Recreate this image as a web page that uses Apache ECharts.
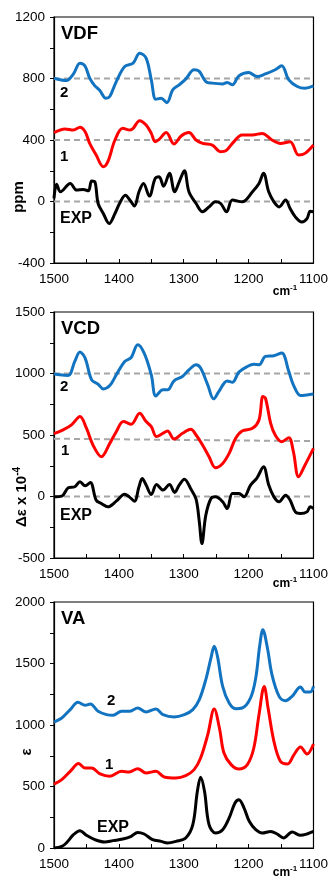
<!DOCTYPE html>
<html>
<head>
<meta charset="utf-8">
<script src="https://cdn.jsdelivr.net/npm/echarts@6/dist/echarts.min.js"></script>
<style>
  html, body { margin: 0; padding: 0; background: #fff; }
  #chart { width: 331px; height: 879px; }
</style>
</head>
<body>
<div id="chart"></div>
<script>
// Wavenumber axis (cm-1), drawn high to low
const waveMin = 1100, waveMax = 1500;

// ---- VDF panel (ppm) ----
const vdfCalc2 = [[1500,802],[1481,787],[1470,830],[1460,900],[1452,880],[1445,802],[1437,752],[1430,726],[1420,672],[1414,683],[1404,780],[1391,878],[1378,900],[1368,965],[1358,933],[1350,791],[1343,665],[1335,672],[1326,643],[1317,726],[1307,759],[1297,796],[1284,857],[1276,846],[1266,780],[1256,770],[1240,765],[1233,774],[1225,759],[1215,817],[1200,839],[1187,813],[1174,830],[1159,857],[1149,883],[1138,791],[1125,748],[1113,737],[1100,752]];
const vdfCalc1 = [[1500,448],[1483,472],[1470,465],[1460,483],[1452,454],[1445,378],[1435,302],[1424,226],[1417,259],[1406,400],[1394,476],[1383,465],[1378,476],[1368,526],[1358,498],[1350,443],[1344,389],[1338,404],[1327,448],[1315,374],[1304,426],[1292,448],[1281,400],[1271,378],[1256,367],[1243,324],[1235,330],[1225,378],[1210,433],[1194,433],[1179,443],[1164,400],[1151,378],[1136,389],[1123,302],[1113,313],[1100,367]];
const vdfExp = [[1500,20],[1496,113],[1490,63],[1475,117],[1465,74],[1455,78],[1447,70],[1442,133],[1437,128],[1432,-13],[1424,-78],[1415,-143],[1406,-78],[1399,-13],[1390,41],[1382,4],[1376,-30],[1369,63],[1362,117],[1353,35],[1344,150],[1338,161],[1331,100],[1322,183],[1314,63],[1307,128],[1299,200],[1292,63],[1281,-13],[1271,-67],[1261,-35],[1251,-2],[1243,-13],[1234,-67],[1225,9],[1210,-2],[1194,63],[1184,117],[1177,183],[1169,63],[1161,-2],[1153,-35],[1143,9],[1136,-46],[1128,-100],[1118,-133],[1110,-111],[1105,-63],[1100,-67]];
const vdfBaselines = [800, 400, 0];

// ---- VCD panel (Δε x 10^-4) ----
const vcdCalc2 = [[1500,997],[1491,989],[1478,984],[1468,1098],[1460,1174],[1452,1125],[1442,948],[1432,913],[1424,875],[1414,902],[1404,989],[1391,1098],[1381,1130],[1371,1234],[1361,1166],[1350,989],[1343,818],[1332,867],[1325,867],[1315,940],[1302,976],[1292,1030],[1281,1071],[1274,1044],[1263,908],[1254,794],[1246,853],[1233,940],[1225,929],[1215,1011],[1202,1057],[1192,1076],[1184,1071],[1174,1139],[1161,1144],[1149,1166],[1138,1016],[1131,908],[1120,821],[1110,826],[1100,834]];
const vcdCalc1 = [[1500,511],[1486,541],[1473,582],[1460,650],[1450,555],[1440,419],[1427,323],[1414,432],[1404,527],[1393,609],[1381,587],[1368,677],[1358,609],[1350,568],[1342,487],[1332,514],[1325,533],[1315,467],[1302,514],[1289,546],[1281,500],[1271,419],[1261,323],[1251,234],[1240,269],[1230,351],[1220,473],[1210,533],[1194,554],[1184,622],[1178,813],[1174,799],[1166,595],[1159,500],[1149,446],[1138,478],[1131,364],[1123,160],[1113,256],[1100,391]];
const vcdExp = [[1500,-3],[1488,3],[1478,71],[1468,79],[1460,120],[1452,87],[1444,114],[1435,-30],[1427,-57],[1417,-84],[1404,-38],[1391,19],[1384,-3],[1376,-38],[1369,79],[1364,147],[1358,93],[1350,16],[1342,98],[1332,52],[1322,98],[1314,33],[1307,93],[1299,141],[1289,60],[1281,-22],[1276,-206],[1272,-383],[1266,-152],[1258,-16],[1251,-3],[1240,-43],[1233,-98],[1225,25],[1215,25],[1207,-3],[1197,93],[1187,152],[1177,242],[1169,93],[1161,-3],[1153,-43],[1143,11],[1136,-30],[1128,-125],[1120,-138],[1110,-125],[1105,-84],[1100,-98]];
const vcdBaseline2 = [[1500,1000],[1100,1000]];
const vcdBaseline1 = [[1500,470],[1100,450]];
const vcdBaselineExp = [[1500,0],[1100,0]];

// ---- VA panel (ε) ----
const vaCalc2 = [[1500,1024],[1488,1057],[1475,1125],[1463,1184],[1452,1160],[1444,1171],[1432,1111],[1419,1084],[1409,1079],[1396,1111],[1384,1111],[1371,1138],[1358,1106],[1343,1130],[1332,1084],[1315,1065],[1299,1084],[1286,1125],[1276,1206],[1266,1369],[1258,1545],[1253,1640],[1248,1558],[1240,1314],[1230,1179],[1220,1133],[1210,1138],[1197,1220],[1189,1382],[1183,1640],[1178,1775],[1171,1626],[1164,1409],[1153,1233],[1143,1198],[1133,1233],[1120,1309],[1113,1268],[1105,1268],[1100,1314]];
const vaCalc1 = [[1500,520],[1488,556],[1475,623],[1462,686],[1452,650],[1442,650],[1429,602],[1414,583],[1396,623],[1384,618],[1371,645],[1358,610],[1343,623],[1330,577],[1312,569],[1297,588],[1284,637],[1274,732],[1263,921],[1253,1130],[1245,976],[1238,772],[1227,678],[1215,642],[1202,678],[1192,813],[1184,1084],[1176,1314],[1170,1138],[1161,867],[1151,705],[1140,683],[1130,759],[1120,821],[1110,764],[1100,846]];
const vaExp = [[1500,0],[1488,14],[1481,41],[1470,108],[1460,141],[1450,103],[1437,68],[1422,49],[1409,60],[1394,73],[1381,95],[1371,127],[1361,114],[1348,68],[1335,54],[1325,41],[1312,54],[1297,81],[1286,190],[1279,461],[1274,575],[1268,461],[1261,190],[1251,122],[1240,149],[1230,244],[1221,366],[1215,393],[1207,325],[1199,217],[1189,149],[1179,122],[1166,135],[1156,114],[1146,81],[1133,130],[1120,103],[1110,114],[1100,135]];

// Axis ranges and tick steps per panel
const yRanges = [
  { min: -400, max: 1200, step: 200 },
  { min: -500, max: 1500, step: 250 },
  { min: 0, max: 2000, step: 250 }
];

const BLUE = '#1273c0', RED = '#ff0000', BLACK = '#000000', GREY = '#a6a6a6';
const FONT = '"Liberation Sans", Arial, sans-serif';

const grids = [
  { left: 54, top: 17, width: 261, height: 246 },
  { left: 54, top: 312, width: 261, height: 246 },
  { left: 54, top: 602, width: 261, height: 246 }
].map(g => Object.assign({ show: true, borderColor: '#000', borderWidth: 1.2, backgroundColor: 'transparent' }, g));

const xAxes = grids.map((g, i) => ({
  type: 'value', gridIndex: i, min: waveMin, max: waveMax, interval: 50, inverse: true,
  axisLine: { show: true, onZero: false, lineStyle: { color: '#000', width: 1.2 } },
  axisTick: { show: true, inside: true, length: 4, lineStyle: { color: '#000' } },
  splitLine: { show: false },
  axisLabel: {
    show: true, margin: 9, color: '#000', fontFamily: FONT, fontSize: 13.5,
    showMinLabel: true, showMaxLabel: true,
    formatter: v => (v % 100 === 0 ? String(v) : '')
  }
}));

const yAxes = yRanges.map((r, i) => ({
  type: 'value', gridIndex: i, min: r.min, max: r.max, interval: r.step,
  axisLine: { show: true, lineStyle: { color: '#000', width: 1.2 } },
  axisTick: { show: true, inside: false, length: 4, lineStyle: { color: '#000' } },
  splitLine: { show: false },
  axisLabel: {
    show: true, margin: 9, color: '#000', fontFamily: FONT, fontSize: 13.5,
    showMinLabel: true, showMaxLabel: true,
    formatter: v => ((v - r.min) % (2 * r.step) === 0 ? String(v) : '')
  }
}));

function dashed(data, idx) {
  return {
    type: 'line', xAxisIndex: idx, yAxisIndex: idx, data: data, symbol: 'none',
    silent: true, z: 1,
    lineStyle: { color: GREY, width: 2, type: [6, 4] }
  };
}
function curve(data, idx, color) {
  return {
    type: 'line', xAxisIndex: idx, yAxisIndex: idx, data: data, symbol: 'none',
    smooth: 0.35, z: 3,
    lineStyle: { color: color, width: 3 }
  };
}

const series = [
  ...vdfBaselines.map(b => dashed([[waveMax, b], [waveMin, b]], 0)),
  curve(vdfCalc2, 0, BLUE), curve(vdfCalc1, 0, RED), curve(vdfExp, 0, BLACK),
  dashed(vcdBaseline2, 1), dashed(vcdBaseline1, 1), dashed(vcdBaselineExp, 1),
  curve(vcdCalc2, 1, BLUE), curve(vcdCalc1, 1, RED), curve(vcdExp, 1, BLACK),
  curve(vaCalc2, 2, BLUE), curve(vaCalc1, 2, RED), curve(vaExp, 2, BLACK)
];

function txt(x, y, text, size, opts) {
  return {
    type: 'text', x: x, y: y, z: 10, rotation: (opts && opts.rotation) || 0,
    style: Object.assign({
      text: text, fill: '#000', font: 'bold ' + size + 'px ' + FONT,
      align: 'left', verticalAlign: 'middle'
    }, (opts && opts.style) || {})
  };
}
function unitLabel(x, y) {
  return {
    type: 'text', x: x, y: y, z: 10,
    style: {
      text: '{b|cm}{s|-1}', align: 'center', verticalAlign: 'middle',
      rich: {
        b: { font: 'bold 12px ' + FONT, fill: '#000', verticalAlign: 'bottom' },
        s: { font: 'bold 8px ' + FONT, fill: '#000', verticalAlign: 'top', padding: [0, 0, 6, 0] }
      }
    }
  };
}
function yTitle(x, y, rich, textStr) {
  return {
    type: 'text', x: x, y: y, z: 10, rotation: Math.PI / 2,
    style: { text: textStr, align: 'center', verticalAlign: 'middle', rich: rich }
  };
}

const graphics = [
  txt(61, 34, 'VDF', 18.5), txt(60, 93, '2', 15), txt(60, 157, '1', 15), txt(60, 219, 'EXP', 16),
  txt(61, 329, 'VCD', 18.5), txt(60, 387, '2', 15), txt(61, 451, '1', 15), txt(60, 516, 'EXP', 16),
  txt(61, 619, 'VA', 18.5), txt(107, 701, '2', 15), txt(105, 765, '1', 15), txt(97, 828, 'EXP', 16),
  unitLabel(285, 291), unitLabel(285, 583), unitLabel(285, 872),
  yTitle(19, 197, { a: { font: 'bold 15px ' + FONT, fill: '#000' } }, '{a|ppm}'),
  yTitle(21, 497, {
    a: { font: 'bold 15px ' + FONT, fill: '#000', verticalAlign: 'bottom' },
    s: { font: 'bold 10px ' + FONT, fill: '#000', verticalAlign: 'top', padding: [0, 0, 7, 0] }
  }, '{a|Δε x 10}{s|-4}'),
  yTitle(27, 752, { a: { font: 'bold 15px ' + FONT, fill: '#000' } }, '{a|ε}')
];

const chart = echarts.init(document.getElementById('chart'), null, { renderer: 'canvas' });
chart.setOption({
  animation: false,
  backgroundColor: '#fff',
  grid: grids,
  xAxis: xAxes,
  yAxis: yAxes,
  series: series,
  graphic: graphics
});
</script>
</body>
</html>
